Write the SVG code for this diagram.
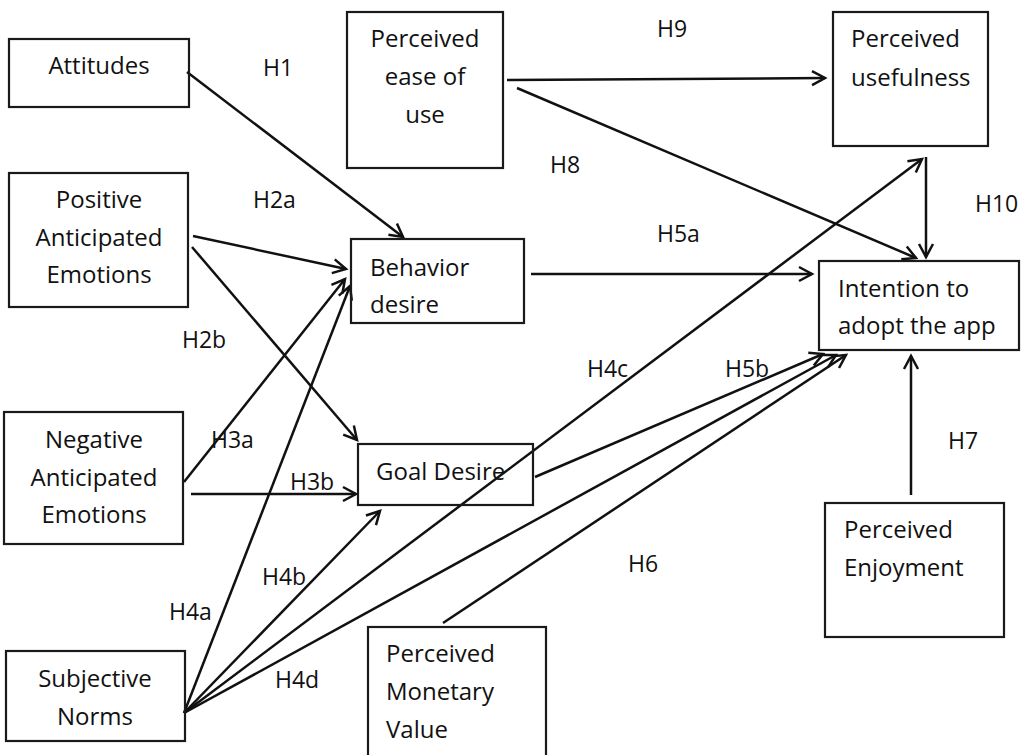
<svg xmlns="http://www.w3.org/2000/svg" width="1026" height="755" viewBox="0 0 1026 755">
<defs>
<style>
.box{fill:none;stroke:#1a1a1a;stroke-width:2.2}
.t{font-family:"Open Sans","Noto Sans",sans-serif;font-size:24px;fill:#111}
.c{text-anchor:middle}
.lbl{font-family:"Open Sans","Noto Sans",sans-serif;font-size:23px;fill:#111}
.e{stroke:#111;stroke-width:2.5;fill:none;marker-end:url(#ah)}
</style>
<marker id="ah" markerUnits="userSpaceOnUse" markerWidth="20" markerHeight="20" viewBox="0 0 20 20" refX="15" refY="10" orient="auto">
<path d="M2,3 L15,10 L2,17" fill="none" stroke="#111" stroke-width="2.5"/>
</marker>
</defs>
<rect width="1026" height="755" fill="#fff"/>

<g id="connectors">
<line class="e" x1="187" y1="72" x2="403" y2="237"/>
<line class="e" x1="193" y1="236" x2="346" y2="269"/>
<line class="e" x1="192" y1="247" x2="357" y2="440"/>
<line class="e" x1="184" y1="482" x2="345" y2="279"/>
<line class="e" x1="184" y1="713" x2="350" y2="286"/>
<line class="e" x1="191" y1="494" x2="356" y2="494"/>
<line class="e" x1="184" y1="713" x2="380" y2="511"/>
<line class="e" x1="184" y1="713" x2="922" y2="159"/>
<line class="e" x1="184" y1="713" x2="836" y2="355"/>
<line class="e" x1="535" y1="477" x2="823" y2="354"/>
<line class="e" x1="443" y1="623" x2="846" y2="355"/>
<line class="e" x1="531" y1="274" x2="812" y2="274"/>
<line class="e" x1="507" y1="80" x2="825" y2="78"/>
<line class="e" x1="517" y1="88" x2="916" y2="258"/>
<line class="e" x1="926" y1="157" x2="926" y2="257"/>
<line class="e" x1="911" y1="495" x2="911" y2="356"/>
</g>

<g id="attitudes"><rect class="box" x="9" y="39" width="180" height="68"/><text class="t c" x="99" y="74">Attitudes</text></g>
<g id="peou"><rect class="box" x="347" y="12" width="156" height="156"/><text class="t c" x="425" y="47">Perceived</text><text class="t c" x="425" y="85">ease of</text><text class="t c" x="425" y="123">use</text></g>
<g id="pu"><rect class="box" x="833" y="12" width="155" height="134"/><text class="t" x="851" y="47">Perceived</text><text class="t" x="851" y="86">usefulness</text></g>
<g id="pae"><rect class="box" x="9" y="173" width="179" height="134"/><text class="t c" x="99" y="208">Positive</text><text class="t c" x="99" y="246">Anticipated</text><text class="t c" x="99" y="283">Emotions</text></g>
<g id="bd"><rect class="box" x="351" y="239" width="173" height="84"/><text class="t" x="370" y="276">Behavior</text><text class="t" x="370" y="313">desire</text></g>
<g id="intention"><rect class="box" x="819" y="261" width="200" height="89"/><text class="t" x="838" y="297">Intention to</text><text class="t" x="838" y="334">adopt the app</text></g>
<g id="nae"><rect class="box" x="4" y="412" width="179" height="132"/><text class="t c" x="94" y="448">Negative</text><text class="t c" x="94" y="486">Anticipated</text><text class="t c" x="94" y="523">Emotions</text></g>
<g id="gd"><rect class="box" x="358" y="444" width="175" height="61"/><text class="t" x="376" y="480">Goal Desire</text></g>
<g id="sn"><rect class="box" x="6" y="651" width="179" height="90"/><text class="t c" x="95" y="687">Subjective</text><text class="t c" x="95" y="725">Norms</text></g>
<g id="pmv"><rect class="box" x="368" y="627" width="178" height="140"/><text class="t" x="386" y="662">Perceived</text><text class="t" x="386" y="700">Monetary</text><text class="t" x="386" y="738">Value</text></g>
<g id="pe"><rect class="box" x="825" y="503" width="179" height="134"/><text class="t" x="844" y="538">Perceived</text><text class="t" x="844" y="576">Enjoyment</text></g>

<g id="labels">
<text class="lbl" x="263" y="76">H1</text>
<text class="lbl" x="253" y="208">H2a</text>
<text class="lbl" x="182" y="348">H2b</text>
<text class="lbl" x="211" y="448">H3a</text>
<text class="lbl" x="290" y="490">H3b</text>
<text class="lbl" x="169" y="620">H4a</text>
<text class="lbl" x="262" y="585">H4b</text>
<text class="lbl" x="587" y="377">H4c</text>
<text class="lbl" x="275" y="688">H4d</text>
<text class="lbl" x="657" y="242">H5a</text>
<text class="lbl" x="725" y="377">H5b</text>
<text class="lbl" x="628" y="572">H6</text>
<text class="lbl" x="948" y="449">H7</text>
<text class="lbl" x="550" y="173">H8</text>
<text class="lbl" x="657" y="37">H9</text>
<text class="lbl" x="975" y="212">H10</text>
</g>
</svg>
